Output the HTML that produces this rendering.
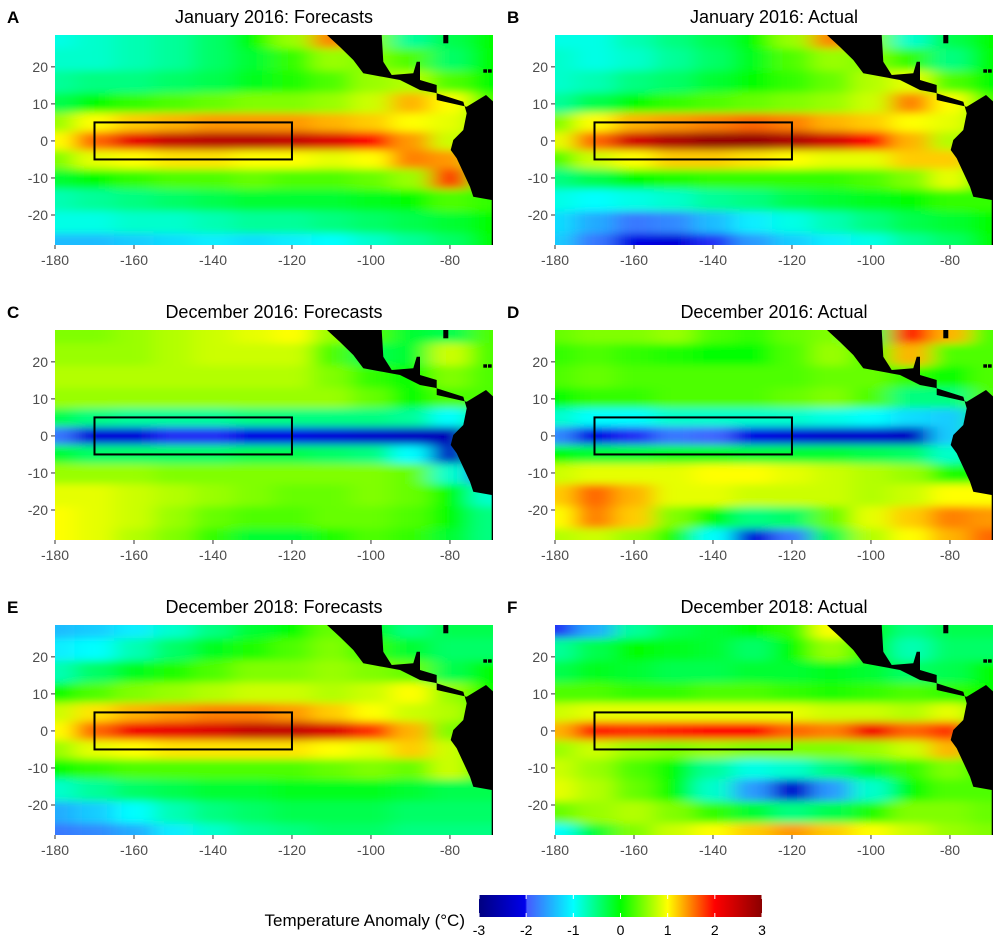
<!DOCTYPE html>
<html><head><meta charset="utf-8"><style>
body{margin:0;background:#fff;}
svg{display:block;font-family:"Liberation Sans",sans-serif;}
</style></head><body>
<svg id="fig" width="1000" height="950" viewBox="0 0 1000 950" xmlns="http://www.w3.org/2000/svg">
<defs>
<filter id="blur" x="-10%" y="-10%" width="120%" height="120%"><feGaussianBlur stdDeviation="11 4"/></filter>
<linearGradient id="cbgrad" x1="0" x2="1" y1="0" y2="0"></linearGradient>
</defs>
</svg>
<script>
const lons=[-180,-170,-160,-150,-140,-130,-120,-110,-100,-90,-80,-70];
const lats=[28,22,16,10,5,0,-5,-10,-16,-22,-28];
const titles=["January 2016: Forecasts","January 2016: Actual","December 2016: Forecasts","December 2016: Actual","December 2018: Forecasts","December 2018: Actual"];
const letters=["A","B","C","D","E","F"];
const xTicks=[-180,-160,-140,-120,-100,-80];
const yTicks=[20,10,0,-10,-20];
const cbTicks=[-3,-2,-1,0,1,2,3];
const panelA=[
[-0.9,-0.8,-0.7,-0.6,-0.4,0,0.6,1.5,0.5,-0.6,-0.3,0],
[-0.8,-0.8,-0.7,-0.6,-0.4,-0.2,0.2,0.6,0.5,0.3,-0.4,0],
[-0.6,-0.5,-0.5,-0.4,-0.3,-0.1,0.1,0.3,0.6,0.7,0.3,0],
[-0.3,0,0.2,0.3,0.4,0.5,0.5,0.6,0.8,1.3,1.0,0.3],
[0.6,1.0,1.2,1.3,1.4,1.4,1.4,1.3,1.2,1.0,0.9,0.5],
[1.0,1.6,2.2,2.5,2.6,2.6,2.5,2.3,2.0,1.4,0.8,0.5],
[0.5,0.9,1.0,1.1,1.1,1.0,1.0,0.9,1.0,1.5,1.4,0.5],
[-0.2,0,0.2,0.3,0.3,0.4,0.3,0.3,0.4,0.6,1.8,0],
[-0.7,-0.6,-0.5,-0.4,-0.3,-0.2,-0.2,-0.2,-0.1,0,0.3,0.2],
[-0.9,-0.9,-0.8,-0.8,-0.7,-0.6,-0.6,-0.5,-0.4,-0.3,-0.2,0],
[-1.4,-1.4,-1.3,-1.2,-1.1,-1.2,-1.1,-1.0,-0.8,-0.6,-0.4,0]];
const panelB=[
[-0.9,-0.9,-0.7,-0.5,-0.3,0,0.6,1.5,0.5,-0.8,-0.3,0],
[-0.8,-0.9,-0.8,-0.6,-0.4,-0.1,0.3,0.6,0.5,0.2,-0.5,0],
[-0.8,-0.7,-0.5,-0.4,-0.2,0,0.2,0.4,0.7,0.9,0.3,0],
[-0.6,-0.3,0,0.2,0.3,0.4,0.5,0.6,0.8,1.5,1.0,0.3],
[0.5,1.0,1.3,1.4,1.5,1.6,1.5,1.3,1.2,1.0,0.9,0.5],
[0.9,1.6,2.4,2.7,2.9,2.9,2.7,2.4,2.0,1.3,0.7,0.5],
[0.3,0.8,1.0,1.2,1.2,1.1,1.0,0.9,0.9,1.2,1.2,0.5],
[-0.5,-0.3,0,0.1,0.2,0.2,0.2,0.2,0.3,0.5,0.9,0],
[-0.9,-1.0,-0.9,-0.8,-0.6,-0.5,-0.3,-0.2,-0.1,0,0.2,0.2],
[-1.2,-1.5,-1.8,-1.7,-1.4,-1.1,-0.9,-0.7,-0.5,-0.3,-0.2,0],
[-1.3,-1.8,-2.1,-2.2,-2.0,-1.6,-1.3,-1.1,-0.9,-0.6,-0.4,0]];
const panelC=[
[0.5,0.5,0.6,0.7,0.8,0.9,1.0,0.6,0.3,-0.2,-0.3,0.3],
[0.6,0.6,0.6,0.7,0.8,0.8,0.8,0.3,-0.3,-0.2,0.8,0.3],
[0.7,0.7,0.7,0.7,0.7,0.7,0.7,0.5,0.2,0.0,0.5,0.3],
[0.6,0.6,0.6,0.6,0.6,0.6,0.6,0.6,0.4,0.0,0.3,0.3],
[-0.3,-0.5,-0.6,-0.6,-0.6,-0.5,-0.5,-0.5,-0.5,-0.6,-1.0,0],
[-1.8,-2.2,-2.2,-2.0,-2.0,-2.1,-2.1,-2.2,-2.3,-2.4,-2.5,0],
[-0.2,-0.4,-0.4,-0.4,-0.4,-0.3,-0.3,-0.4,-0.5,-1.0,-2.4,0],
[0.6,0.6,0.6,0.5,0.5,0.5,0.5,0.5,0.5,0.4,-0.8,-2],
[0.9,0.9,0.8,0.7,0.6,0.5,0.4,0.4,0.5,0.4,0.0,-0.8],
[1.0,0.9,0.8,0.6,0.4,0.3,0.3,0.4,0.4,0.3,0.0,-0.5],
[1.0,0.9,0.7,0.5,0.2,-0.2,-0.2,0.1,0.3,0.2,-0.2,-0.5]];
const panelD=[
[0.4,0.5,0.5,0.6,0.3,0.2,0.4,0.5,-0.3,2.0,1.3,0.3],
[0.2,0.3,0.2,0.1,0.0,0.0,0.3,0.6,0.3,1.3,0.3,0.3],
[0.3,0.4,0.3,0.3,0.3,0.3,0.3,0.4,0.4,0.2,0.0,0.3],
[0.0,0.2,0.2,0.3,0.3,0.3,0.4,0.5,0.3,-0.5,-0.5,0.3],
[-0.8,-1.0,-1.0,-0.8,-0.8,-0.8,-0.8,-0.9,-1.0,-1.2,-1.3,0],
[-1.7,-2.1,-2.0,-1.8,-1.9,-2.1,-2.2,-2.3,-2.3,-2.4,-1.3,0],
[0.0,-0.2,-0.2,-0.1,-0.1,-0.2,-0.2,-0.2,-0.3,-0.4,-0.8,0],
[0.8,0.9,0.9,0.9,1.0,1.0,0.9,0.8,0.7,0.6,0.1,0],
[1.2,1.6,1.3,0.9,0.9,0.8,0.8,0.8,0.7,0.8,1.0,1.0],
[1.0,1.5,1.2,0.5,0.0,-0.5,-0.4,0.4,0.9,1.2,1.5,1.4],
[0.7,0.8,0.6,0.1,-1.0,-2.2,-1.8,-0.3,0.7,1.0,1.3,1.6]];
const panelE=[
[-1.4,-1.3,-1.1,-0.8,-0.5,-0.2,0.0,0.4,0.0,-0.5,-0.3,-0.3],
[-1.1,-1.0,-0.7,-0.4,-0.1,0.1,0.3,0.5,0.2,-0.2,-0.4,-0.4],
[-0.7,-0.4,-0.1,0.1,0.3,0.5,0.5,0.6,0.5,0.4,-0.3,0],
[0.0,0.3,0.5,0.6,0.7,0.8,0.8,0.7,0.8,1.0,0.6,0],
[0.8,1.1,1.3,1.4,1.5,1.5,1.4,1.2,1.0,0.8,0.7,0],
[1.0,1.6,2.1,2.2,2.3,2.5,2.5,2.3,1.8,1.3,0.5,0],
[0.6,0.9,1.0,1.1,1.1,1.1,1.1,1.0,0.9,1.2,0.8,0],
[0.0,0.2,0.3,0.3,0.3,0.3,0.3,0.4,0.5,0.4,0.8,0],
[-0.8,-0.6,-0.4,-0.3,-0.2,-0.2,-0.1,-0.1,-0.1,-0.2,-0.3,-0.3],
[-1.5,-1.3,-1.0,-0.7,-0.5,-0.4,-0.3,-0.3,-0.3,-0.4,-0.4,-0.4],
[-1.8,-1.7,-1.5,-1.1,-0.8,-0.6,-0.5,-0.4,-0.4,-0.5,-0.5,-0.5]];
const panelF=[
[-2.0,-1.5,-0.6,-0.3,-0.2,0.0,0.2,1.0,0.0,-0.5,-0.3,-0.3],
[-0.6,-0.3,0.0,-0.1,-0.2,-0.4,0.0,0.6,0.0,-0.7,-0.4,-0.4],
[-0.3,-0.1,-0.2,-0.3,-0.3,-0.2,-0.2,-0.1,-0.2,-0.4,-0.3,0],
[0.3,0.3,0.2,0.2,0.3,0.3,0.2,0.1,0.2,0.3,0.2,0],
[0.8,0.9,0.9,0.9,0.9,0.9,0.9,0.8,0.8,0.7,0.9,0],
[1.3,1.9,1.8,1.9,2.0,2.0,1.6,1.5,2.1,1.6,1.8,0],
[0.6,0.8,0.6,0.5,0.6,0.5,0.5,0.5,0.6,0.8,1.3,0],
[0.8,0.6,0.3,0.0,-0.6,-0.9,-0.8,-0.5,-0.2,0.2,0.5,0],
[0.9,0.7,0.4,0.0,-0.8,-1.6,-2.3,-1.6,-0.8,0.0,0.3,0.3],
[0.4,0.6,0.7,0.5,0.2,-0.2,-0.5,-0.3,0.1,0.5,0.5,0.4],
[-1.0,-0.2,0.5,0.8,1.0,1.2,1.4,1.2,1.0,0.8,0.6,0.5]];
const panels=[panelA,panelB,panelC,panelD,panelE,panelF];
// land outline, offsets in px from panel top-left
const landMain=[[272,-3],[272,0],[285,12],[298.3,25],[308.3,38.3],[345,45],[365,55],[380,57.7],[408.3,66.7],[411.7,78.3],[408.3,95],[398.3,105],[395.7,115],[401.7,123.3],[415,151.7],[418.3,161.7],[436.7,165],[436.7,213],[441,213],[441,66.7],[438.3,66.7],[431,60],[411.7,71.7],[381.7,65],[381.7,50],[365,45],[365,26.7],[361.7,26.7],[358.3,38.3],[336.7,40],[328.3,26.7],[326.7,0],[326.7,-3]];
const landSmall=[[388.3,-3],[393.3,-3],[393.3,8.3],[388.3,8.3]];
const landDots=[[428.3,34.3,432,37.7],[433,34.3,436.7,37.7]];
const stops=[[-3,[0,0,128]],[-2.02,[0,0,235]],[-1.98,[70,90,255]],[-1,[0,255,255]],[0,[0,255,0]],[1,[255,255,0]],[2,[255,0,0]],[3,[139,0,0]]];
function cmap(v){v=Math.max(-3,Math.min(3,v));for(let i=0;i<stops.length-1;i++){const a=stops[i],b=stops[i+1];if(v<=b[0]){const t=(v-a[0])/(b[0]-a[0]);const c=a[1].map((x,k)=>Math.round(x+(b[1][k]-x)*t));return`rgb(${c})`;}}return'rgb(139,0,0)';}
const NS='http://www.w3.org/2000/svg';
const svg=document.getElementById('fig');
function mk(tag,attrs,parent){const e=document.createElementNS(NS,tag);for(const k in attrs)e.setAttribute(k,attrs[k]);(parent||svg).appendChild(e);return e;}
const W=438,H=210,LON0=-180,LON1=-69.1,LAT0=28.6,LAT1=-28.1;
panels.forEach((data,p)=>{
 const ox=55+(p%2)*500, oy=35+Math.floor(p/2)*295;
 const xs=lon=>ox+(lon-LON0)/(LON1-LON0)*W;
 const ys=lat=>oy+(LAT0-lat)/(LAT0-LAT1)*H;
 const g=mk('g',{});
 
 
 mk('clipPath',{id:'clip'+p},g);
 mk('rect',{x:ox,y:oy,width:W,height:H},g.lastChild);
 const clipG=mk('g',{'clip-path':`url(#clip${p})`},g);
 const heat=mk('g',{filter:'url(#blur)'},clipG);
 
 
 data.forEach((row,r)=>{row.forEach((v,c)=>{
  const x0=c===0?xs(lons[0])-40:xs((lons[c]+lons[c-1])/2);
  const x1=c===lons.length-1?xs(lons[c])+40:xs((lons[c]+lons[c+1])/2);
  const y0=r===0?ys(lats[0])-30:ys((lats[r]+lats[r-1])/2);
  const y1=r===lats.length-1?ys(lats[r])+30:ys((lats[r]+lats[r+1])/2);
  const cell=mk('rect',{x:x0,y:y0,width:x1-x0+0.5,height:y1-y0+0.5,fill:cmap(v)},heat);
  
  
 });});
 const land=mk('polygon',{points:landMain.map(q=>(ox+q[0])+','+(oy+q[1])).join(' '),fill:'#000'},clipG);
 
 
 const land2=mk('polygon',{points:landSmall.map(q=>(ox+q[0])+','+(oy+q[1])).join(' '),fill:'#000'},clipG);
 
 
 landDots.forEach(d=>{const e=mk('rect',{x:ox+d[0],y:oy+d[1],width:d[2]-d[0],height:d[3]-d[1],fill:'#000'},clipG);
  
  });
 const box=mk('rect',{x:xs(-170),y:ys(5),width:xs(-120)-xs(-170),height:ys(-5)-ys(5),fill:'none',stroke:'#000','stroke-width':2},g);
 
 
 xTicks.forEach(t=>{mk('line',{x1:xs(t),x2:xs(t),y1:oy+H,y2:oy+H+4,stroke:'#333','stroke-width':1},g);
  const tl=mk('text',{x:xs(t),y:oy+H+20,'text-anchor':'middle','font-size':14,fill:'#4d4d4d'},g);tl.textContent=t;
  
  });
 yTicks.forEach(t=>{mk('line',{x1:ox-4,x2:ox,y1:ys(t),y2:ys(t),stroke:'#333','stroke-width':1},g);
  const tl=mk('text',{x:ox-7,y:ys(t)+5,'text-anchor':'end','font-size':14,fill:'#4d4d4d'},g);tl.textContent=t;
  
  });
 const ti=mk('text',{x:ox+W/2,y:oy-12,'text-anchor':'middle','font-size':18,fill:'#000'},g);ti.textContent=titles[p];
 
 
 const le=mk('text',{x:ox-48,y:oy-12,'font-size':17,'font-weight':'bold',fill:'#000'},g);le.textContent=letters[p];
 
 
});
// colorbar
const grad=document.getElementById('cbgrad');
stops.forEach(s=>{mk('stop',{offset:((s[0]+3)/6*100)+'%','stop-color':cmap(s[0])},grad);});
const cbX0=479,cbX1=762,cbY=895,cbH=22;
const cbx=v=>cbX0+(v+3)/6*(cbX1-cbX0);
const cb=mk('rect',{x:cbX0,y:cbY,width:cbX1-cbX0,height:cbH,fill:'url(#cbgrad)'});


cbTicks.forEach(t=>{
 mk('line',{x1:cbx(t),x2:cbx(t),y1:cbY,y2:cbY+4,stroke:'#fff','stroke-width':1});
 mk('line',{x1:cbx(t),x2:cbx(t),y1:cbY+cbH-4,y2:cbY+cbH,stroke:'#fff','stroke-width':1});
 const tl=mk('text',{x:cbx(t),y:cbY+cbH+18,'text-anchor':'middle','font-size':14,fill:'#000'});tl.textContent=t;
 
 
});
const cbt=mk('text',{x:465,y:926,'text-anchor':'end','font-size':17,fill:'#000'});cbt.textContent='Temperature Anomaly (°C)';


</script>
</body></html>
